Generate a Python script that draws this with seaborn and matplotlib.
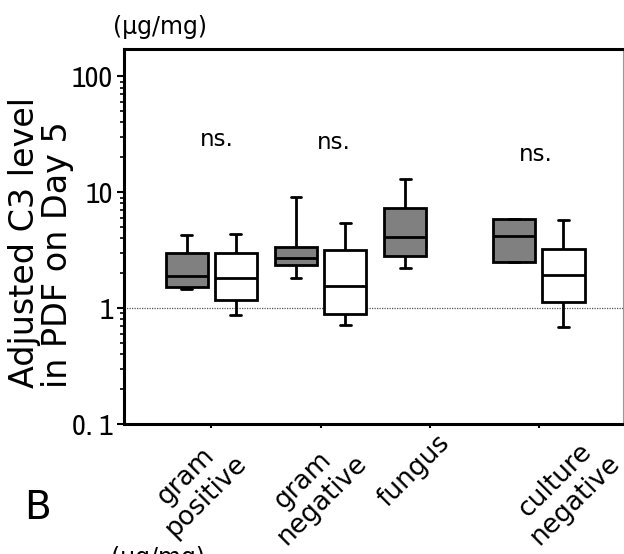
import numpy as np
import pandas as pd
import matplotlib
matplotlib.use("Agg")
import matplotlib.pyplot as plt
import seaborn as sns
from matplotlib import font_manager
from matplotlib.ticker import FixedLocator, LogLocator, NullFormatter

# Categories on the x axis and the two compared groups
categories = ["gram\npositive", "gram\nnegative", "fungus", "culture\nnegative"]
groups = ["group A", "group B"]

# Five-number summaries per category (µg/mg): lower whisker, Q1, median, Q3, upper whisker
low_a = [1.47, 1.83, 2.23, 2.50]
q1_a = [1.53, 2.35, 2.79, 2.50]
med_a = [1.91, 2.68, 4.09, 4.17]
q3_a = [2.99, 3.39, 7.36, 5.82]
high_a = [4.25, 9.18, 12.9, 5.82]

low_b = [0.88, 0.71, None, 0.69]
q1_b = [1.18, 0.89, None, 1.12]
med_b = [1.81, 1.56, None, 1.94]
q3_b = [2.97, 3.19, None, 3.24]
high_b = [4.34, 5.41, None, 5.79]

# Significance annotations (category index, height in µg/mg)
ns_text = "ns."
ns_categories = [0, 1, 3]
ns_heights = [25.0, 23.5, 18.5]

y_ticks = [0.1, 1, 10, 100]
y_ticklabels = ["0. 1", "1", "10", "100"]
reference_level = 1.0

# Long-form table: five values per box reproduce the summary exactly
rows = []
for grp, cols in [(groups[0], (low_a, q1_a, med_a, q3_a, high_a)),
                  (groups[1], (low_b, q1_b, med_b, q3_b, high_b))]:
    for i, cat in enumerate(categories):
        vals = [c[i] for c in cols]
        if vals[0] is None:
            continue
        for v in vals:
            rows.append({"category": cat, "group": grp, "value": v})
df = pd.DataFrame(rows)

sns.set_theme(style="white")
plt.rcParams["font.family"] = ["DejaVu Sans"]
plt.rcParams["text.color"] = "black"
plt.rcParams["xtick.color"] = "black"
plt.rcParams["ytick.color"] = "black"


def narrow_font(size):
    """Pick a condensed sans face for the numeric tick labels if one is installed."""
    best = None
    for f in font_manager.fontManager.ttflist:
        name = f.name.lower()
        cond = ("narrow" in name or "condensed" in name
                or str(f.stretch) in ("condensed", "semi-condensed", "extra-condensed"))
        if not cond or f.style != "normal":
            continue
        w = f.weight if isinstance(f.weight, int) else 400
        if w != 400:
            continue
        score = 0 if "narrow" in name else 1
        if best is None or score < best[0]:
            best = (score, f.fname)
    if best:
        return font_manager.FontProperties(fname=best[1], size=size)
    return font_manager.FontProperties(family=["Liberation Sans", "DejaVu Sans"], size=size)


fig = plt.figure(figsize=(6.24, 5.54), dpi=100)
ax = fig.add_axes([124 / 624, 1 - 424 / 554, 499 / 624, 375 / 554])

ax.axhline(reference_level, color="#555555", lw=0.9, ls=(0, (1, 1)), zorder=0.5)

sns.boxplot(
    data=df, x="category", y="value", hue="group",
    order=categories, hue_order=groups,
    palette={groups[0]: "#808080", groups[1]: "white"}, saturation=1,
    width=0.9, gap=0.14, whis=(0, 100), fliersize=0,
    linecolor="black", linewidth=2.0, capwidths=0.1,
    log_scale=True, legend=False, ax=ax,
)

ax.set_xlim(-0.8, 3.77)
ax.set_ylim(0.1, 172)

# Axes frame
for side in ["left", "bottom", "top"]:
    ax.spines[side].set_color("black")
    ax.spines[side].set_linewidth(2.2)
ax.spines["right"].set_color("#999999")
ax.spines["right"].set_linewidth(0.8)

# y axis: log ticks with minor marks
ax.yaxis.set_major_locator(FixedLocator(y_ticks))
ax.set_yticklabels(y_ticklabels, fontproperties=narrow_font(21.5))
ax.yaxis.set_minor_locator(LogLocator(base=10, subs=np.arange(2, 10)))
ax.yaxis.set_minor_formatter(NullFormatter())
ax.tick_params(axis="y", which="major", direction="out", length=5, width=1.5,
               left=True, pad=3, color="black", labelcolor="black")
ax.tick_params(axis="y", which="minor", direction="out", length=3, width=1.2,
               left=True, color="black")

# x axis: short ticks, category names as rotated text blocks below
ax.tick_params(axis="x", which="major", direction="out", length=3, width=1.5,
               bottom=True, color="black", labelbottom=False)
ax.set_xlabel("")
ax.set_ylabel("")

label_dx = [-0.137, -0.073, -0.146, 0.238]   # horizontal shift of each block (category units)
for i, cat in enumerate(categories):
    ax.annotate(cat, xy=(i + label_dx[i], 0), xycoords=("data", "axes fraction"),
                xytext=(0, -6), textcoords="offset pixels",
                rotation=45, ha="center", va="top", multialignment="center",
                linespacing=1.12, fontsize=19, color="black")

ns_dx = [0.05, 0.12, -0.03]
for c, h, dx in zip(ns_categories, ns_heights, ns_dx):
    ax.text(c + dx, h, ns_text, ha="center", va="baseline", fontsize=16.5, color="black")

fig.text(41 / 624, 1 - 243 / 554, "Adjusted C3 level\nin PDF on Day 5",
         rotation=90, ha="center", va="center", multialignment="left",
         linespacing=0.98, fontsize=24, color="black")
fig.text(160 / 624, 1 - 27 / 554, "(µg/mg)", ha="center", va="center",
         fontsize=17, color="black")
fig.text(37 / 624, 1 - 508 / 554, "B", ha="center", va="center",
         fontsize=28, color="black")
fig.text(158 / 624, 1 - 546 / 554, "(µg/mg)", ha="center", va="top",
         fontsize=17, color="black")

fig.savefig("out.png", dpi=100)
